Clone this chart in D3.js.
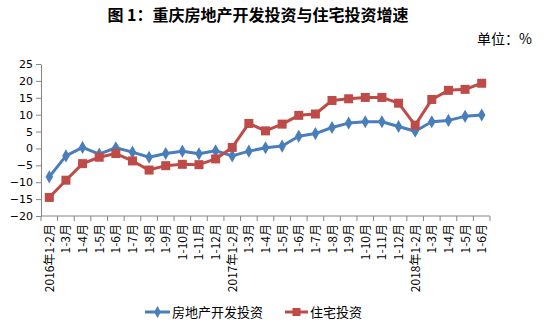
<!DOCTYPE html>
<html>
<head>
<meta charset="utf-8">
<script src="https://cdn.jsdelivr.net/npm/d3@7"></script>
<style>
  html, body { margin: 0; padding: 0; background: #fff; }
  svg { display: block; font-family: "Noto Sans CJK SC", "DejaVu Sans", sans-serif; }
</style>
</head>
<body>
<svg id="chart" width="546" height="330"></svg>
<script>
// Months (cumulative periods), growth rates in %
const categories = [
  "2016年1-2月", "1-3月", "1-4月", "1-5月", "1-6月", "1-7月", "1-8月", "1-9月", "1-10月", "1-11月", "1-12月",
  "2017年1-2月", "1-3月", "1-4月", "1-5月", "1-6月", "1-7月", "1-8月", "1-9月", "1-10月", "1-11月", "1-12月",
  "2018年1-2月", "1-3月", "1-4月", "1-5月", "1-6月"
];
const devInvest = [
  -8.4, -2.2, 0.3, -1.7, 0.2, -1.1, -2.6, -1.5, -0.8, -1.6, -0.7,
  -2.2, -0.8, 0.2, 0.7, 3.6, 4.4, 6.2, 7.5, 7.9, 7.9, 6.5,
  5.1, 7.9, 8.3, 9.5, 9.9
];
const resInvest = [
  -14.5, -9.4, -4.5, -2.6, -1.5, -3.7, -6.4, -5.1, -4.7, -4.8, -3.1,
  0.3, 7.4, 5.2, 7.2, 9.8, 10.2, 14.2, 14.7, 15.1, 15.1, 13.4,
  6.9, 14.5, 17.2, 17.5, 19.3
];
const yTicks = [25, 20, 15, 10, 5, 0, -5, -10, -15, -20];
const seriesNames = ["房地产开发投资", "住宅投资"];
const colors = ["#4a7ebb", "#be4b48"];

const svg = d3.select("#chart");
const plot = { left: 41, right: 490, top: 64, bottom: 216 };

const idx = categories.map((_, i) => i);
const x = d3.scaleBand().domain(idx).range([plot.left, plot.right]);
const y = d3.scaleLinear().domain([-20, 25]).range([plot.bottom, plot.top]);
const cx = i => x(i) + x.bandwidth() / 2;

// Title and unit
svg.append("text")
  .attr("x", 258).attr("y", 21)
  .attr("text-anchor", "middle")
  .attr("font-size", 16).attr("font-weight", "bold")
  .attr("fill", "#000")
  .text("图 1：重庆房地产开发投资与住宅投资增速");
svg.append("text")
  .attr("x", 532).attr("y", 44)
  .attr("text-anchor", "end")
  .attr("font-size", 14)
  .attr("fill", "#000")
  .text("单位：%");

// Y axis
const yAxis = d3.axisLeft(y).tickValues(yTicks).tickSize(5).tickSizeOuter(0).tickPadding(3);
const gy = svg.append("g").attr("transform", `translate(${plot.left},0)`).call(yAxis);
gy.select(".domain").attr("stroke", "#868686");
gy.selectAll(".tick line").attr("stroke", "#868686");
gy.selectAll(".tick text").attr("font-size", 11).attr("fill", "#000")
  .attr("font-family", "'DejaVu Sans', sans-serif");

// X axis at bottom, ticks between categories
const gx = svg.append("g").attr("transform", `translate(0,${plot.bottom})`);
gx.append("line")
  .attr("x1", plot.left).attr("x2", plot.right)
  .attr("stroke", "#868686");
gx.selectAll(".sep").data(d3.range(categories.length + 1)).join("line")
  .attr("class", "sep")
  .attr("x1", i => plot.left + i * x.bandwidth())
  .attr("x2", i => plot.left + i * x.bandwidth())
  .attr("y1", 0).attr("y2", 5)
  .attr("stroke", "#868686");
gx.selectAll(".lbl").data(idx).join("text")
  .attr("class", "lbl")
  .attr("transform", i => `translate(${cx(i) + 4.5},${8}) rotate(-90)`)
  .attr("text-anchor", "end")
  .attr("font-size", 12)
  .attr("fill", "#000")
  .text(i => categories[i]);

// Lines and markers
const line = d3.line().x((d, i) => cx(i)).y(d => y(d));
[devInvest, resInvest].forEach((vals, s) => {
  svg.append("path")
    .datum(vals)
    .attr("d", line)
    .attr("fill", "none")
    .attr("stroke", colors[s])
    .attr("stroke-width", 3)
    .attr("stroke-linejoin", "round");
});
svg.append("g").selectAll("path").data(devInvest).join("path")
  .attr("d", d3.symbol(d3.symbolDiamond, 50))
  .attr("transform", (d, i) => `translate(${cx(i)},${y(d)})`)
  .attr("fill", colors[0]);
svg.append("g").selectAll("rect").data(resInvest).join("rect")
  .attr("x", (d, i) => cx(i) - 4.5)
  .attr("y", d => y(d) - 4.5)
  .attr("width", 9).attr("height", 9)
  .attr("fill", colors[1]);

// Legend
const legend = svg.append("g").attr("transform", "translate(0,312)");
const legendItems = [
  { x: 145, w: 25, name: seriesNames[0], color: colors[0], marker: "diamond" },
  { x: 285, w: 23, name: seriesNames[1], color: colors[1], marker: "square" }
];
legendItems.forEach(it => {
  legend.append("line")
    .attr("x1", it.x).attr("x2", it.x + it.w)
    .attr("y1", 0).attr("y2", 0)
    .attr("stroke", it.color).attr("stroke-width", 3);
  if (it.marker === "diamond") {
    legend.append("path")
      .attr("d", d3.symbol(d3.symbolDiamond, 40))
      .attr("transform", `translate(${it.x + it.w / 2},0)`)
      .attr("fill", it.color);
  } else {
    legend.append("rect")
      .attr("x", it.x + it.w / 2 - 4).attr("y", -4)
      .attr("width", 8).attr("height", 8)
      .attr("fill", it.color);
  }
  legend.append("text")
    .attr("x", it.x + it.w + 2).attr("y", 4.5)
    .attr("font-size", 13)
    .attr("fill", "#000")
    .text(it.name);
});
</script>
</body>
</html>
